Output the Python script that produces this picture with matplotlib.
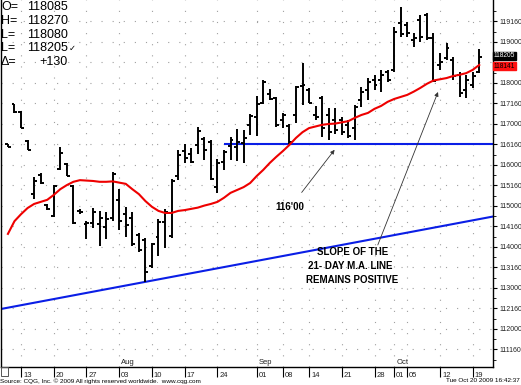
import matplotlib
matplotlib.use('Agg')
import matplotlib.pyplot as plt
import matplotlib.transforms as mtransforms
from matplotlib.patches import Rectangle
import numpy as np

plt.rcParams['font.family'] = ['Liberation Sans', 'DejaVu Sans']

# ---------------- data ----------------
day_index = list(range(-2, 71))
highs = [116.51, 117.49, 117.32, 116.61, 115.71, 115.80, 115.05, 115.51, 116.44, 116.05,
         115.51, 114.93, 114.63, 114.95, 114.88, 114.85, 115.83, 115.41, 114.98, 114.85,
         114.34, 114.22, 114.10, 114.68, 114.93, 115.66, 116.37, 116.51, 116.41, 116.93,
         116.68, 116.61, 116.15, 116.37, 116.68, 116.88, 116.85, 117.24, 117.68, 118.07,
         117.85, 117.66, 117.27, 117.00, 117.93, 118.49, 117.88, 117.44, 117.68, 117.39,
         117.39, 117.17, 117.10, 117.46, 117.90, 118.12, 118.20, 118.32, 118.32, 119.37,
         119.85, 119.49, 119.22, 119.66, 119.71, 119.22, 118.73, 118.98, 118.63, 118.27,
         118.20, 118.27, 118.84]
lows = [116.44, 117.27, 116.90, 116.37, 115.17, 115.54, 114.90, 114.73, 115.88, 115.73,
        114.56, 114.80, 114.20, 114.46, 114.02, 114.20, 114.63, 114.41, 114.24, 114.02,
        113.88, 113.15, 113.49, 113.78, 113.98, 114.22, 115.63, 116.05, 116.05, 116.27,
        116.12, 115.63, 115.32, 115.88, 116.12, 116.10, 116.05, 116.73, 116.71, 117.49,
        117.59, 116.93, 116.90, 116.51, 117.02, 117.46, 117.51, 117.10, 116.68, 116.61,
        116.76, 116.73, 116.66, 116.61, 117.41, 117.59, 117.83, 117.78, 118.02, 118.27,
        119.12, 119.12, 118.88, 119.00, 119.05, 118.02, 118.32, 118.56, 118.07, 117.66,
        117.63, 117.88, 118.25]
opens = [116.51, 117.49, 117.29, 116.59, 115.29, 115.76, 115.02, 114.76, 115.90, 116.02,
         115.49, 114.88, 114.56, 114.59, 114.56, 114.49, 114.71, 115.15, 114.80, 114.71,
         114.29, 114.17, 113.54, 114.24, 114.61, 114.27, 115.73, 116.34, 116.27, 116.49,
         116.63, 116.56, 115.46, 116.07, 116.46, 116.44, 116.54, 116.98, 117.17, 117.51,
         117.73, 117.63, 117.10, 116.95, 117.22, 117.93, 117.83, 117.22, 117.63, 117.22,
         117.10, 117.10, 116.98, 116.90, 117.59, 117.83, 118.07, 118.07, 118.27, 118.32,
         119.46, 119.41, 119.05, 119.54, 119.66, 119.10, 118.44, 118.61, 118.56, 118.20,
         117.83, 117.95, 118.27]
closes = [116.44, 117.29, 116.90, 116.37, 115.61, 115.56, 114.93, 115.49, 116.29, 115.73,
          114.59, 114.85, 114.59, 114.85, 114.71, 114.68, 115.78, 114.63, 114.54, 114.07,
          113.93, 113.39, 114.07, 114.61, 114.85, 115.61, 116.24, 116.17, 116.07, 116.83,
          116.37, 115.66, 116.05, 116.32, 116.61, 116.56, 116.66, 117.20, 117.49, 118.02,
          117.61, 116.98, 117.22, 116.56, 117.90, 117.95, 117.51, 117.17, 116.90, 116.80,
          116.85, 116.80, 116.71, 117.41, 117.78, 118.02, 117.95, 118.20, 118.07, 119.24,
          119.20, 119.22, 119.10, 119.12, 119.10, 118.05, 118.51, 118.85, 118.17, 117.76,
          118.07, 118.17, 118.64]
ma21 = [114.32, 114.63, 114.80, 114.95, 115.05, 115.10, 115.15, 115.27, 115.41, 115.51,
        115.59, 115.63, 115.62, 115.61, 115.59, 115.59, 115.60, 115.57, 115.54, 115.41,
        115.29, 115.12, 114.98, 114.88, 114.83, 114.83, 114.88, 114.90, 114.93, 114.96,
        115.01, 115.05, 115.10, 115.20, 115.32, 115.39, 115.46, 115.56, 115.73, 115.88,
        116.05, 116.20, 116.34, 116.49, 116.66, 116.80, 116.90, 116.94, 116.98, 117.00,
        117.01, 117.04, 117.07, 117.15, 117.22, 117.27, 117.37, 117.44, 117.54, 117.61,
        117.66, 117.71, 117.79, 117.88, 117.98, 118.06, 118.09, 118.12, 118.17, 118.20,
        118.24, 118.32, 118.44]

support_level = 116.5           # 116'16 horizontal line
support_start = 31
trend_pts = [(19, 113.15), (70, 114.68)]

price_ticks = [111.5, 112.0, 112.5, 113.0, 113.5, 114.0, 114.5, 115.0,
               115.5, 116.0, 116.5, 117.0, 117.5, 118.0, 118.5, 119.0, 119.5]
# 118160 is covered by the last-price / MA boxes in the original
price_labels = ["111160", "112000", "112160", "113000", "113160", "114000", "114160",
                "115000", "115160", "116000", "116160", "117000", "117160", "118000",
                "", "119000", "119160"]

week_ticks = [0, 5, 10, 15, 20, 25, 30, 36, 40, 44, 49, 54, 57, 59, 64, 69]
week_labels = ["13", "20", "27", "03", "10", "17", "24", "01", "08", "14",
               "21", "28", "01", "05", "12", "19"]
month_marks = [(15, "Aug"), (36, "Sep"), (57, "Oct")]

header_keys = ["O=", "H=", "L=", "L=", "\u0394="]
header_vals = ["118085", "118270", "118080", "118205", "+130"]
last_price = 118.640625
last_label = "118205"
ma_label = "118141"

# ---------------- figure ----------------
W, H = 521, 385
fig = plt.figure(figsize=(W / 100, H / 100), dpi=100)
ax = fig.add_axes([1 / W, 18 / H, 492 / W, 367 / H])
ax.set_xlim(-3.06, 72.1)
ax.set_ylim(111.073, 120.024)

x = np.array(day_index)
# dotted grid
for t in week_ticks:
    ax.axvline(t, color='#a0a0a0', lw=0.8, ls=(0, (1, 9)), zorder=0)
for yv in price_ticks:
    ax.axhline(yv, color='#a0a0a0', lw=0.8, ls=(0, (1, 9)), zorder=0)

# OHLC bars
ax.vlines(x, lows, highs, color='black', lw=1.4, zorder=3)
ax.hlines(opens, x - 0.45, x, color='black', lw=1.4, zorder=3)
ax.hlines(closes, x, x + 0.45, color='black', lw=1.4, zorder=3)

# moving average
ax.plot(x, ma21, color='#ee0000', lw=1.5, zorder=4)

# blue lines
ax.hlines(support_level, support_start, 72.1, color='#0a1ee6', lw=1.5, zorder=2)
ax.axline(trend_pts[0], trend_pts[1], color='#0a1ee6', lw=1.5, zorder=2)

# axes styling
ax.spines['top'].set_visible(False)
for s in ['right', 'left', 'bottom']:
    ax.spines[s].set_linewidth(1.0)

ax.yaxis.tick_right()
ax.set_yticks(price_ticks)
ax.set_yticks(np.arange(111.25, 119.9, 0.25), minor=True)
ax.set_yticklabels(price_labels)
ax.tick_params(axis='y', which='major', direction='out', length=3, width=0.8,
               labelsize=5, pad=1.5, right=True, left=False, labelcolor='#222222')
ax.tick_params(axis='y', which='minor', direction='out', length=2, width=0.6,
               right=True, left=False)

ax.set_xticks(week_ticks)
ax.set_xticklabels([])
ax.tick_params(axis='x', which='major', direction='out', length=7, width=0.8)

blend_x = mtransforms.blended_transform_factory(ax.transData, ax.transAxes)
off = mtransforms.ScaledTranslation(2 / 100, 0, fig.dpi_scale_trans)
for t, lab in zip(week_ticks, week_labels):
    ax.text(t, -0.013, lab, transform=blend_x + off, ha='left', va='top',
            fontsize=5.5, color='#222222')
for t, lab in month_marks:
    ax.text(t, 0.003, lab, transform=blend_x + off, ha='left', va='bottom',
            fontsize=5.5, color='#222222')

# price boxes on right axis (black: last price, red: moving average)
blend_y = mtransforms.blended_transform_factory(ax.transAxes, ax.transData)
up = mtransforms.ScaledTranslation(0, 1.0 / 100, fig.dpi_scale_trans)
down = mtransforms.ScaledTranslation(0, -1.2 / 100, fig.dpi_scale_trans)
ax.text(1.002, last_price, last_label, transform=blend_y + up, ha='left', va='center',
        fontsize=4.8, color='white',
        bbox=dict(boxstyle='square,pad=0.1', fc='black', ec='black'), zorder=6, clip_on=False)
ax.text(1.002, ma21[-1], ma_label, transform=blend_y + down, ha='left', va='center',
        fontsize=4.8, color='black',
        bbox=dict(boxstyle='square,pad=0.1', fc='#ff1010', ec='#ff1010'), zorder=6, clip_on=False)

# header text
for k, (key, val) in enumerate(zip(header_keys, header_vals)):
    yy = 1 - (7 + 13.8 * k) / H
    fig.text(1 / W, yy, key, ha='left', va='center', fontsize=9)
    fig.text(68 / W, yy, val, ha='right', va='center', fontsize=9)
fig.text(69 / W, 1 - (7 + 13.8 * 3) / H, "\u2713", ha='left', va='center',
         fontsize=6, family=['DejaVu Sans'])

# annotations
ax.annotate("116'00", xy=(47.9, 116.37), xytext=(38.9, 114.98),
            ha='left', va='center', fontsize=7, fontweight='bold',
            arrowprops=dict(arrowstyle='-|>', color='#333333', lw=0.6,
                            mutation_scale=6, shrinkA=6, shrinkB=0,
                            relpos=(0.65, 1.0)))
ax.text(50.6, 113.88, "SLOPE OF THE", ha='center', va='center', fontsize=7, fontweight='bold')
ax.text(50.3, 113.54, "21- DAY M.A. LINE", ha='center', va='center', fontsize=7, fontweight='bold')
ax.text(50.6, 113.19, "REMAINS POSITIVE", ha='center', va='center', fontsize=7, fontweight='bold')
ax.annotate("", xy=(63.7, 117.78), xytext=(54.5, 114.05),
            arrowprops=dict(arrowstyle='-|>', color='#333333', lw=0.6,
                            mutation_scale=6, shrinkA=0, shrinkB=0))

# small box at bottom-left corner
fig.patches.append(Rectangle((0.5 / W, 1 - 376 / H), 7 / W, 9 / H, transform=fig.transFigure,
                             fill=False, ec='#555555', lw=0.7))

# footer
fig.text(0 / W, 1 - 381 / H, "Source: CQG, Inc. \u00a9 2009 All rights reserved worldwide.  www.cqg.com",
         ha='left', va='center', fontsize=4.6)
fig.text(520 / W, 1 - 381 / H, "Tue Oct 20 2009 16:42:37", ha='right', va='center', fontsize=4.6)

fig.savefig('out.png', dpi=100)
